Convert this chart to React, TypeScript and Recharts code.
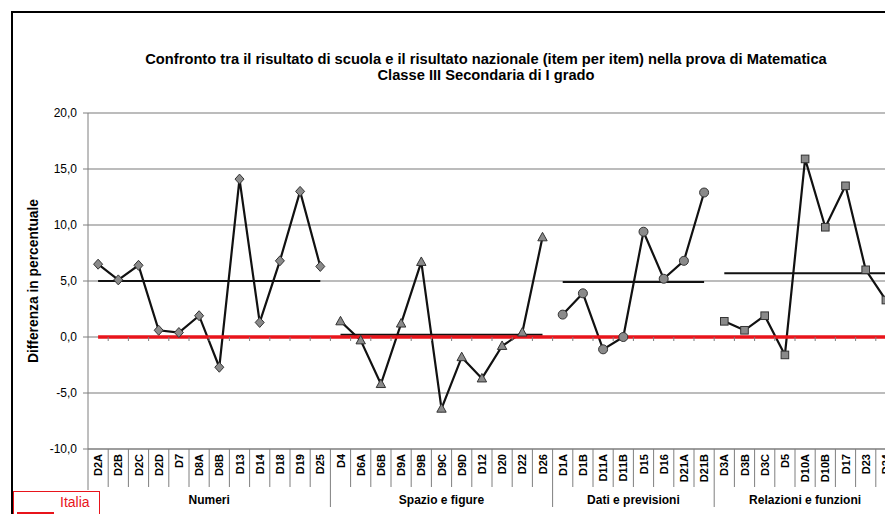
import { LineChart, Line, XAxis, YAxis, CartesianGrid } from "recharts";

// item labels and school-vs-national differences, one list per area
const numeriItems = ["D2A", "D2B", "D2C", "D2D", "D7", "D8A", "D8B", "D13", "D14", "D18", "D19", "D25"];
const numeriValues = [6.5, 5.1, 6.4, 0.6, 0.4, 1.9, -2.7, 14.1, 1.3, 6.8, 13.0, 6.3];

const spazioItems = ["D4", "D6A", "D6B", "D9A", "D9B", "D9C", "D9D", "D12", "D20", "D22", "D26"];
const spazioValues = [1.4, -0.3, -4.2, 1.2, 6.7, -6.4, -1.8, -3.7, -0.8, 0.4, 8.9];

const datiItems = ["D1A", "D1B", "D11A", "D11B", "D15", "D16", "D21A", "D21B"];
const datiValues = [2.0, 3.9, -1.1, 0.0, 9.4, 5.2, 6.8, 12.9];

const relazioniItems = ["D3A", "D3B", "D3C", "D5", "D10A", "D10B", "D17", "D23", "D24"];
const relazioniValues = [1.4, 0.6, 1.9, -1.6, 15.9, 9.8, 13.5, 6.0, 3.3];

const groupNames = ["Numeri", "Spazio e figure", "Dati e previsioni", "Relazioni e funzioni"];
const groupMeans = [5.0, 0.2, 4.9, 5.7];
const italiaValue = 0;

const yTicks = [-10, -5, 0, 5, 10, 15, 20];

const groupItems = [numeriItems, spazioItems, datiItems, relazioniItems];
const groupValues = [numeriValues, spazioValues, datiValues, relazioniValues];

// one row per item; each area gets its own key so the lines break between areas
const rows: any[] = [];
groupItems.forEach((items, g) => {
  items.forEach((name, i) => {
    const row: any = { name, group: g, first: i === 0, last: i === items.length - 1, italia: italiaValue };
    groupNames.forEach((_, k) => {
      row[`s${k}`] = k === g ? groupValues[g][i] : null;
      row[`m${k}`] = k === g ? groupMeans[g] : null;
    });
    rows.push(row);
  });
});

const FONT = "Arial, 'Liberation Sans', sans-serif";
const W = 896;
const H = 514;
const LEFT = 88;
const TOP = 113;
const AXIS_H = 65;
const PLOT_H = H - TOP - AXIS_H;
const STEP = (W - LEFT) / rows.length;
const GRID = "#a6a6a6";
const AXIS = "#7f7f7f";
const RED = "#e8141b";
const MARKER_FILL = "#8a8a8a";
const MARKER_STROKE = "#333";

const zeroY = TOP + (20 / 30) * PLOT_H;

const makeDot = (shape: string) => (props: any) => {
  const { cx, cy, value } = props;
  if (cx == null || cy == null || value == null) return <g />;
  const common = { fill: MARKER_FILL, stroke: MARKER_STROKE, strokeWidth: 1 };
  if (shape === "diamond")
    return <polygon points={`${cx},${cy - 5} ${cx + 4.5},${cy} ${cx},${cy + 5} ${cx - 4.5},${cy}`} {...common} />;
  if (shape === "triangle")
    return <polygon points={`${cx},${cy - 5} ${cx + 4.7},${cy + 3.5} ${cx - 4.7},${cy + 3.5}`} {...common} />;
  if (shape === "circle") return <circle cx={cx} cy={cy} r={4.5} {...common} />;
  return <rect x={cx - 3.8} y={cy - 3.8} width={7.6} height={7.6} {...common} />;
};

const shapes = ["diamond", "triangle", "circle", "square"];

const CategoryTick = (props: any) => {
  const { x, y, payload, index } = props;
  const row = rows[index];
  const half = STEP / 2;
  const rightLen = row.last ? 58 : 38;
  const count = groupItems[row.group].length;
  return (
    <g>
      <text
        transform={`translate(${x}, ${y + 5}) rotate(-90)`}
        textAnchor="end"
        dominantBaseline="central"
        fontSize={11}
        fontWeight="bold"
        fontFamily={FONT}
        fill="#000"
      >
        {payload.value}
      </text>
      <line x1={x + half} y1={y} x2={x + half} y2={y + rightLen} stroke={AXIS} strokeWidth={1} />
      <line x1={x + half} y1={zeroY} x2={x + half} y2={zeroY + 4} stroke={AXIS} strokeWidth={1} />
      {index === 0 && <line x1={x - half} y1={y} x2={x - half} y2={y + 41} stroke={AXIS} strokeWidth={1} />}
      {row.first && (
        <text
          x={x - half + (count * STEP) / 2}
          y={y + 51}
          textAnchor="middle"
          dominantBaseline="central"
          fontSize={12}
          fontWeight="bold"
          fontFamily={FONT}
          fill="#000"
        >
          {groupNames[row.group]}
        </text>
      )}
    </g>
  );
};

export default function App() {
  return (
    <div
      style={{
        position: "fixed",
        left: 0,
        top: 0,
        width: 885,
        height: 514,
        overflow: "hidden",
        background: "#fff",
        fontFamily: FONT,
      }}
    >
      <div
        style={{
          position: "absolute",
          left: 11,
          top: 11,
          width: 1000,
          height: 1000,
          border: "2.5px solid #000",
        }}
      />
      <div
        style={{
          position: "absolute",
          left: 86,
          width: 800,
          top: 51,
          textAlign: "center",
          fontSize: 14.7,
          lineHeight: "16px",
          fontWeight: "bold",
          color: "#000",
          whiteSpace: "nowrap",
        }}
      >
        Confronto tra il risultato di scuola e il risultato nazionale (item per item) nella prova di Matematica
        <br />
        Classe III Secondaria di I grado
      </div>
      <div
        style={{
          position: "absolute",
          left: 33,
          top: TOP + PLOT_H / 2,
          transform: "translate(-50%, -50%) rotate(-90deg)",
          whiteSpace: "nowrap",
          fontSize: 13.8,
          fontWeight: "bold",
          color: "#000",
        }}
      >
        Differenza in percentuale
      </div>
      <div style={{ position: "absolute", left: 0, top: 0 }}>
        <LineChart width={W} height={H} data={rows} margin={{ top: TOP, right: 0, bottom: 0, left: 0 }}>
          <CartesianGrid vertical={false} stroke={GRID} strokeWidth={1.5} />
          <XAxis
            dataKey="name"
            scale="band"
            interval={0}
            height={AXIS_H}
            tickLine={false}
            tickSize={0}
            tickMargin={0}
            axisLine={{ stroke: AXIS }}
            tick={<CategoryTick />}
          />
          <YAxis
            width={LEFT}
            domain={[-10, 20]}
            ticks={yTicks}
            tickFormatter={(v: number) => v.toFixed(1).replace(".", ",")}
            tickSize={5}
            tickMargin={6}
            axisLine={{ stroke: AXIS }}
            tickLine={{ stroke: AXIS }}
            tick={{ fontSize: 12, fill: "#000", fontFamily: FONT }}
          />
          {groupNames.map((_, k) => (
            <Line
              key={`m${k}`}
              dataKey={`m${k}`}
              stroke="#111"
              strokeWidth={2}
              dot={false}
              activeDot={false}
              isAnimationActive={false}
            />
          ))}
          {groupNames.map((_, k) => (
            <Line
              key={`s${k}`}
              dataKey={`s${k}`}
              stroke="#111"
              strokeWidth={2.2}
              dot={makeDot(shapes[k])}
              activeDot={false}
              isAnimationActive={false}
            />
          ))}
          <Line
            dataKey="italia"
            stroke={RED}
            strokeWidth={3.5}
            dot={false}
            activeDot={false}
            isAnimationActive={false}
          />
        </LineChart>
      </div>
      <div
        style={{
          position: "absolute",
          left: 13,
          top: 491,
          width: 85,
          height: 40,
          border: `1px solid ${RED}`,
          background: "#fff",
        }}
      >
        <div style={{ position: "absolute", left: 3, top: 20, width: 37, height: 2, background: RED }} />
        <div style={{ position: "absolute", left: 46, top: 2, fontSize: 14, color: RED, lineHeight: "16px" }}>
          Italia
        </div>
      </div>
    </div>
  );
}
